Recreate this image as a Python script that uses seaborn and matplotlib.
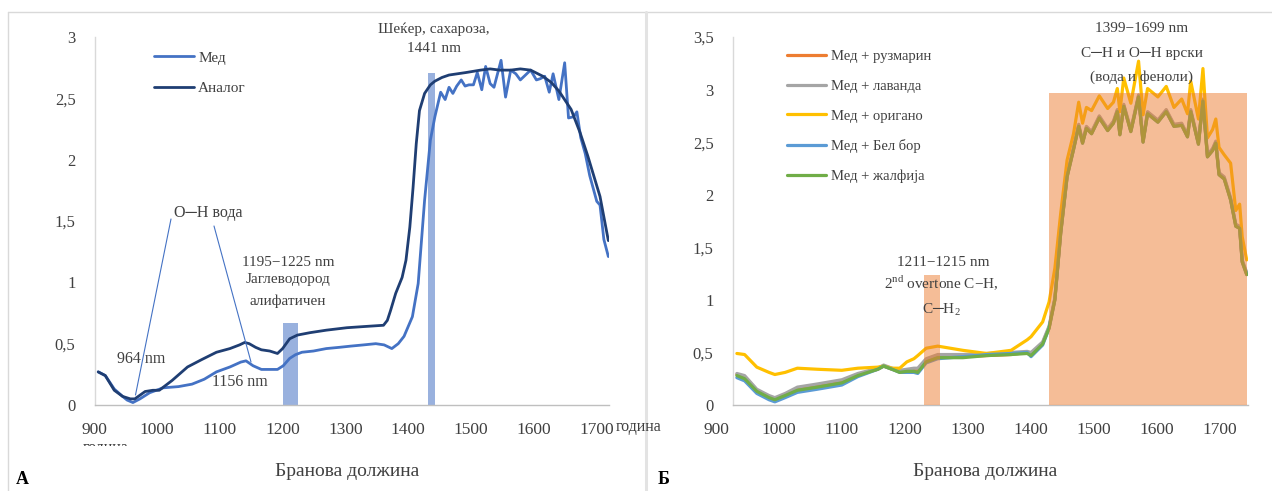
import matplotlib
matplotlib.use("Agg")
import matplotlib.pyplot as plt
import matplotlib.transforms as mtrans
import seaborn as sns
import pandas as pd

# ---------------- data : panel A ----------------
med_nm = [905, 916, 930, 943, 950, 959, 970, 985, 1006, 1030, 1051, 1070, 1089, 1110, 1127, 1135, 1146, 1159, 1172, 1184,
          1193, 1203, 1212, 1222, 1240, 1260, 1280, 1298, 1318, 1337, 1350, 1362, 1372, 1381, 1394, 1403, 1413, 1422, 1429, 1438,
          1445, 1451, 1457, 1463, 1470, 1476, 1482, 1489, 1495, 1502, 1508, 1515, 1521, 1532, 1539, 1547, 1555, 1562, 1570, 1578,
          1587, 1593, 1600, 1607, 1613, 1622, 1631, 1637, 1645, 1650, 1656, 1663, 1670, 1681, 1686, 1692, 1699]
med_val = [0.27, 0.24, 0.13, 0.07, 0.04, 0.02, 0.05, 0.10, 0.14, 0.15, 0.17, 0.21, 0.27, 0.31, 0.35, 0.36, 0.32, 0.29, 0.29, 0.29,
           0.32, 0.38, 0.41, 0.43, 0.44, 0.46, 0.47, 0.48, 0.49, 0.50, 0.49, 0.46, 0.50, 0.56, 0.72, 0.99, 1.67, 2.16, 2.35, 2.55,
           2.49, 2.59, 2.54, 2.60, 2.65, 2.60, 2.61, 2.61, 2.71, 2.57, 2.76, 2.62, 2.59, 2.81, 2.51, 2.73, 2.70, 2.65, 2.69, 2.73,
           2.65, 2.66, 2.68, 2.55, 2.70, 2.49, 2.79, 2.34, 2.35, 2.39, 2.18, 2.05, 1.87, 1.66, 1.63, 1.35, 1.21]
ana_nm = [905, 916, 930, 943, 955, 962, 970, 978, 990, 1000, 1020, 1044, 1066, 1089, 1110, 1125, 1133, 1140, 1150, 1159,
          1172, 1184, 1192, 1203, 1215, 1235, 1260, 1292, 1320, 1349, 1355, 1360, 1368, 1378, 1384, 1390, 1395, 1400, 1405, 1413,
          1422, 1429, 1440, 1451, 1477, 1500, 1515, 1530, 1547, 1562, 1578, 1597, 1610, 1622, 1641, 1655, 1667, 1686, 1699]
ana_val = [0.27, 0.24, 0.12, 0.07, 0.05, 0.05, 0.08, 0.11, 0.12, 0.12, 0.20, 0.31, 0.37, 0.43, 0.46, 0.49, 0.51, 0.50, 0.47, 0.45,
           0.44, 0.42, 0.46, 0.54, 0.57, 0.59, 0.61, 0.63, 0.64, 0.65, 0.69, 0.77, 0.91, 1.04, 1.18, 1.45, 1.77, 2.13, 2.40, 2.54,
           2.61, 2.64, 2.67, 2.69, 2.71, 2.73, 2.74, 2.73, 2.73, 2.74, 2.73, 2.68, 2.63, 2.56, 2.41, 2.22, 2.03, 1.70, 1.34]
a_band_start = [1193, 1419]
a_band_end = [1216, 1429]
a_band_top = [0.67, 2.71]

# ---------------- data : panel Б ----------------
r_nm = [906, 918, 937, 956, 965, 981, 1000, 1031, 1069, 1094, 1125, 1134, 1147, 1159, 1170, 1181, 1187, 1200, 1218, 1257,
        1294, 1332, 1357, 1363, 1381, 1391, 1400, 1409, 1419, 1429, 1437, 1443, 1449, 1457, 1469, 1482, 1491, 1497, 1501, 1507,
        1518, 1530, 1537, 1544, 1560, 1573, 1585, 1597, 1606, 1611, 1623, 1630, 1637, 1645, 1650, 1655, 1663, 1673, 1681, 1687,
        1691, 1698]
ruzmarin = [0.29, 0.26, 0.14, 0.08, 0.06, 0.10, 0.15, 0.18, 0.23, 0.29, 0.34, 0.37, 0.34, 0.32, 0.33, 0.33, 0.33, 0.42, 0.46, 0.46,
            0.47, 0.48, 0.50, 0.48, 0.59, 0.74, 1.01, 1.64, 2.18, 2.44, 2.66, 2.50, 2.64, 2.59, 2.74, 2.62, 2.69, 2.80, 2.58, 2.85,
            2.61, 2.94, 2.51, 2.78, 2.70, 2.80, 2.66, 2.67, 2.56, 2.80, 2.49, 2.90, 2.37, 2.43, 2.50, 2.20, 2.16, 1.96, 1.71, 1.69,
            1.37, 1.25]
lavanda = [0.30, 0.28, 0.15, 0.09, 0.07, 0.11, 0.17, 0.20, 0.24, 0.30, 0.35, 0.38, 0.35, 0.33, 0.34, 0.35, 0.35, 0.44, 0.48, 0.48,
           0.49, 0.50, 0.51, 0.50, 0.60, 0.75, 1.02, 1.65, 2.19, 2.45, 2.67, 2.51, 2.65, 2.60, 2.75, 2.63, 2.70, 2.81, 2.59, 2.86,
           2.62, 2.95, 2.52, 2.79, 2.71, 2.81, 2.67, 2.68, 2.57, 2.81, 2.50, 2.91, 2.38, 2.44, 2.51, 2.21, 2.17, 1.97, 1.72, 1.70,
           1.38, 1.26]
origano = [0.49, 0.48, 0.36, 0.31, 0.29, 0.31, 0.35, 0.34, 0.33, 0.35, 0.36, 0.37, 0.35, 0.35, 0.41, 0.44, 0.47, 0.54, 0.56, 0.52,
           0.49, 0.52, 0.62, 0.65, 0.79, 0.98, 1.30, 1.82, 2.33, 2.58, 2.88, 2.68, 2.83, 2.80, 2.94, 2.82, 2.88, 3.01, 2.79, 3.11,
           2.87, 3.27, 2.76, 3.01, 2.93, 3.03, 2.83, 2.91, 2.77, 3.08, 2.72, 3.20, 2.54, 2.62, 2.72, 2.45, 2.38, 2.30, 1.85, 1.91,
           1.60, 1.38]
bel_bor = [0.26, 0.23, 0.11, 0.05, 0.03, 0.07, 0.12, 0.15, 0.19, 0.27, 0.34, 0.37, 0.34, 0.31, 0.31, 0.31, 0.30, 0.40, 0.44, 0.46,
           0.48, 0.49, 0.50, 0.46, 0.57, 0.73, 1.00, 1.63, 2.17, 2.43, 2.65, 2.49, 2.63, 2.58, 2.73, 2.61, 2.68, 2.79, 2.57, 2.84,
           2.60, 2.93, 2.50, 2.77, 2.69, 2.79, 2.65, 2.66, 2.55, 2.79, 2.48, 2.89, 2.36, 2.42, 2.49, 2.19, 2.15, 1.95, 1.70, 1.68,
           1.36, 1.24]
zalfija = [0.28, 0.25, 0.13, 0.07, 0.05, 0.09, 0.14, 0.17, 0.21, 0.28, 0.34, 0.37, 0.34, 0.31, 0.32, 0.32, 0.31, 0.41, 0.45, 0.45,
           0.47, 0.48, 0.49, 0.47, 0.58, 0.73, 1.00, 1.63, 2.17, 2.43, 2.65, 2.49, 2.63, 2.58, 2.73, 2.61, 2.68, 2.79, 2.57, 2.84,
           2.60, 2.93, 2.50, 2.77, 2.69, 2.79, 2.65, 2.66, 2.55, 2.79, 2.48, 2.89, 2.36, 2.42, 2.49, 2.19, 2.15, 1.95, 1.70, 1.68,
           1.36, 1.24]
b_series = ["Мед + рузмарин", "Мед + лаванда", "Мед + оригано", "Мед + Бел бор", "Мед + жалфија"]
b_values = [ruzmarin, lavanda, origano, bel_bor, zalfija]
b_colors = ["#ED7D31", "#A5A5A5", "#FFC000", "#5B9BD5", "#70AD47"]
b_band_start = [1196, 1391]
b_band_end = [1222, 1698]
b_band_top = [1.24, 2.97]

x_ticks = [900, 1000, 1100, 1200, 1300, 1400, 1500, 1600, 1700]
yA_ticks = [0, 0.5, 1, 1.5, 2, 2.5, 3]
yA_labels = ["0", "0,5", "1", "1,5", "2", "2,5", "3"]
yB_ticks = [0, 0.5, 1, 1.5, 2, 2.5, 3, 3.5]
yB_labels = ["0", "0,5", "1", "1,5", "2", "2,5", "3", "3,5"]

# ---------------- style ----------------
sns.set_style("white")
plt.rcParams['font.family'] = ['Liberation Serif', 'DejaVu Serif']
plt.rcParams['mathtext.fontset'] = 'custom'
plt.rcParams['mathtext.rm'] = 'Liberation Serif'
TXT = "#404040"

W, H = 1272, 491
fig = plt.figure(figsize=(W / 100, H / 100), dpi=100)


def fx(px):
    return px / W


def fy(py):
    return 1 - py / H


# panel frames
frame_kw = dict(transform=fig.transFigure, color="#D9D9D9", lw=1)
fig.add_artist(plt.Line2D([fx(8), fx(1272)], [fy(12), fy(12)], **frame_kw))
fig.add_artist(plt.Line2D([fx(8), fx(8)], [fy(12), fy(495)], **frame_kw))
fig.add_artist(plt.Line2D([fx(645.5), fx(645.5)], [fy(12), fy(495)], transform=fig.transFigure, color="#E3E3E3", lw=2.2))

axA = fig.add_axes([fx(95), fy(405), (609 - 95) / W, (405 - 37) / H])
axB = fig.add_axes([fx(733), fy(405), (1248 - 733) / W, (405 - 37) / H])


def style_axis(ax, yt, yl, ylim, shift0, step):
    ax.set_xlim(900, 1700)
    ax.set_ylim(*ylim)
    ax.set_xticks(x_ticks)
    ax.set_xticklabels([str(v) for v in x_ticks])
    ax.set_yticks(yt)
    ax.set_yticklabels(yl)
    for s in ["top", "right"]:
        ax.spines[s].set_visible(False)
    ax.spines["left"].set_color("#D9D9D9")
    ax.spines["bottom"].set_color("#BFBFBF")
    ax.spines["left"].set_linewidth(1)
    ax.spines["bottom"].set_linewidth(1)
    ax.tick_params(axis="y", length=0, pad=14, labelsize=12, labelcolor=TXT)
    ax.tick_params(axis="x", length=5, width=1, color="#BFBFBF", direction="out", pad=7,
                   labelsize=12.5, labelcolor=TXT)
    ax.set_xlabel("")
    ax.set_ylabel("")
    ax.grid(False)
    for i, lab in enumerate(ax.get_xticklabels()):
        dx = shift0 + step * i
        lab.set_transform(lab.get_transform() + mtrans.ScaledTranslation(-dx / 100, 0, fig.dpi_scale_trans))


# ---------------- panel A ----------------
for s, e, top in zip(a_band_start, a_band_end, a_band_top):
    axA.bar((s + e) / 2, top, width=e - s, color="#8EA9DB", alpha=0.9, zorder=1, linewidth=0)
sns.lineplot(x=med_nm, y=med_val, ax=axA, color="#4472C4", lw=2.0, label="Мед", sort=False, zorder=3)
sns.lineplot(x=ana_nm, y=ana_val, ax=axA, color="#1F3E73", lw=2.0, label="Аналог", sort=False, zorder=3)
style_axis(axA, yA_ticks, yA_labels, (0, 3), 1, 1.4)
axA.legend(loc="upper left", bbox_to_anchor=(fx(154), fy(51)), bbox_transform=fig.transFigure,
           frameon=False, fontsize=11, handlelength=2.6, handletextpad=0.3, labelspacing=1.1,
           borderpad=0, borderaxespad=0, labelcolor=TXT)

# ---------------- panel B ----------------
for name, vals, col in zip(b_series, b_values, b_colors):
    sns.lineplot(x=r_nm, y=vals, ax=axB, color=col, lw=2.3, label=name, sort=False, zorder=2)
for s, e, top in zip(b_band_start, b_band_end, b_band_top):
    axB.bar((s + e) / 2, top, width=e - s, color="#ED7D31", alpha=0.5, zorder=4, linewidth=0)
style_axis(axB, yB_ticks, yB_labels, (0, 3.5), 17, 1.4)
axB.legend(loc="upper left", bbox_to_anchor=(fx(787), fy(50)), bbox_transform=fig.transFigure,
           frameon=False, fontsize=10.5, handlelength=2.7, handletextpad=0.3, labelspacing=1.13,
           borderpad=0, borderaxespad=0, labelcolor=TXT)


def t(x, y, s, size=11, color=TXT, **kw):
    kw.setdefault("ha", "center")
    kw.setdefault("va", "center")
    return fig.text(fx(x), fy(y), s, fontsize=size, color=color, **kw)


# annotations A
t(208, 213, "О─Н вода", size=11.5)
fig.add_artist(plt.Line2D([fx(171), fx(135.5)], [fy(219), fy(395)], transform=fig.transFigure, color="#4472C4", lw=0.8))
fig.add_artist(plt.Line2D([fx(214), fx(251)], [fy(226), fy(362)], transform=fig.transFigure, color="#4472C4", lw=0.8))
t(141, 359, "964 nm", size=11.5)
t(240, 382, "1156 nm", size=11.5)
t(288, 262, "1195−1225 nm")
t(288, 280, "Јаглеводород")
t(288, 301, "алифатичен")
t(434, 29, "Шеќер, сахароза,")
t(434, 48, "1441 nm")
t(616, 427, "година", size=11.5, ha="left")
clipped = t(106, 440, "година", size=11.5, va="top")
clipped.set_clip_on(True)
clipped.set_clip_box(mtrans.Bbox.from_extents(0, fy(446) * H, W, H))
t(347, 471, "Бранова должина", size=14)
t(22, 480, "А", size=13, fontweight="bold", color="black")

# annotations Б
t(1142, 28, "1399−1699 nm")
t(1142, 54, "C─H и O─H врски")
t(1142, 77, "(вода и феноли)")
t(943, 262, "1211−1215 nm")
t(941, 283, "2$^{\\mathrm{nd}}$ overtone C−H,")
t(941, 310, "C─H$_{\\mathrm{2}}$")
t(985, 471, "Бранова должина", size=14)
t(664, 480, "Б", size=13, fontweight="bold", color="black")

fig.savefig("out.png", dpi=100)
